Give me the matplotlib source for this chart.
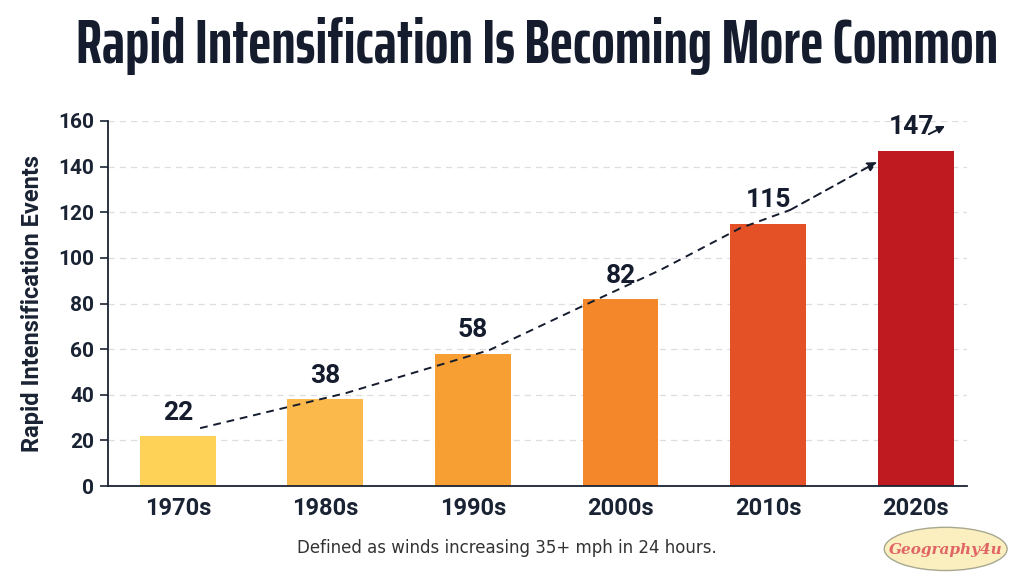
import matplotlib
matplotlib.use("Agg")
import matplotlib.pyplot as plt
from matplotlib.patches import Ellipse
from matplotlib import font_manager
from matplotlib.font_manager import FontProperties

categories = ["1970s", "1980s", "1990s", "2000s", "2010s", "2020s"]
values = [22, 38, 58, 82, 115, 147]
colors = ["#FDD257", "#FBB94B", "#F79F33", "#F4872A", "#E45127", "#BF1A1F"]
yticks = [0, 20, 40, 60, 80, 100, 120, 140, 160]
trend_x = [0.15, 1.14, 2.11, 2.76, 3.27, 3.81, 4.15, 4.74]
trend_y = [25.4, 40.8, 59.6, 79.4, 94.7, 113, 121, 142]
title = "Rapid Intensification Is Becoming More Common"

fig = plt.figure(figsize=(10.24, 5.76), dpi=100)
renderer = fig.canvas.get_renderer()

# candidate title fonts: condensed (non-mono) bold if installed, else Roboto bold
cands = [FontProperties(family="Roboto", weight="bold", size=40)]
for f in font_manager.fontManager.ttflist:
    fn = f.fname.lower()
    n = (f.name + " " + str(f.stretch) + " " + fn).lower()
    if ("condensed" in n or "narrow" in n) and "bold" in fn and "mono" not in n \
            and "oblique" not in fn and "italic" not in fn and "semibold" not in fn \
            and "extrabold" not in fn:
        cands.append(FontProperties(fname=f.fname, size=40))

target_w = 925
best = None
for fp in cands:
    t = fig.text(0, 0, title, fontproperties=fp)
    w = t.get_window_extent(renderer).width
    t.remove()
    size = 40 * target_w / w
    if size > 48:
        continue
    if best is None or size > best[1]:
        best = (fp, size)
title_fp = best[0].copy()
title_fp.set_size(best[1])

ax = fig.add_axes([0.1055, 0.156, 0.839, 0.634])
lab = "Roboto"
x = list(range(len(categories)))
ax.bar(x, values, width=0.515, color=colors, zorder=2)
ax.set_xlim(-0.474, 5.35)
ax.set_ylim(0, 160)
ax.set_yticks(yticks)
ax.yaxis.grid(True, linestyle=(0, (5, 4)), color="#dddddd", linewidth=0.9, zorder=0)
for s in ["top", "right"]:
    ax.spines[s].set_visible(False)
for s in ["left", "bottom"]:
    ax.spines[s].set_color("#1a2333")
    ax.spines[s].set_linewidth(1.3)
ax.set_xticks(x)
ax.set_xticklabels(categories, fontsize=17, fontweight="bold", family=lab, color="#1a2333")
ax.tick_params(axis="x", length=0, pad=8)
ax.tick_params(axis="y", length=6, width=1.2, color="#1a2333", pad=4)
for t in ax.get_yticklabels():
    t.set_fontsize(15); t.set_fontweight("bold"); t.set_family(lab); t.set_color("#1a2333")
ax.set_ylabel("Rapid Intensification Events", fontsize=17, fontweight="bold",
              family=lab, color="#1a2333", labelpad=10)

for xi, v in zip(x, values):
    ax.text(xi - (0.03 if v == values[-1] else 0), v + 5, str(v), ha="center", va="bottom",
            fontsize=19, fontweight="bold", family=lab, color="#141c2e", zorder=4)

ax.plot(trend_x[:-1], trend_y[:-1], linestyle=(0, (4, 3)), color="#141c2e", lw=1.4, zorder=3)
ax.annotate("", xy=(trend_x[-1], trend_y[-1]), xytext=(trend_x[-2], trend_y[-2]),
            arrowprops=dict(arrowstyle="-|>", linestyle=(0, (4, 3)), color="#141c2e",
                            lw=1.4, mutation_scale=14, shrinkA=0, shrinkB=0), zorder=3)
ax.annotate("", xy=(5.2, 157.8), xytext=(5.09, 154.2),
            arrowprops=dict(arrowstyle="-|>", color="#141c2e", lw=1.4, mutation_scale=11,
                            shrinkA=0, shrinkB=0))

fig.text(0.524, 0.92, title, ha="center", va="center", color="#141c2e",
         fontproperties=title_fp)
fig.text(0.495, 0.049, "Defined as winds increasing 35+ mph in 24 hours.", ha="center",
         va="center", fontsize=12, color="#333333")

e = Ellipse((0.9235, 0.047), 0.12, 0.075, transform=fig.transFigure,
            facecolor="#FBEFC0", edgecolor="#a8a890", lw=1)
fig.patches.append(e)
fig.text(0.9235, 0.045, "Geography4u", ha="center", va="center", fontsize=11,
         fontstyle="italic", fontweight="bold", family="DejaVu Serif", color="#E06565")

fig.savefig("out.png", dpi=100, facecolor="white")
